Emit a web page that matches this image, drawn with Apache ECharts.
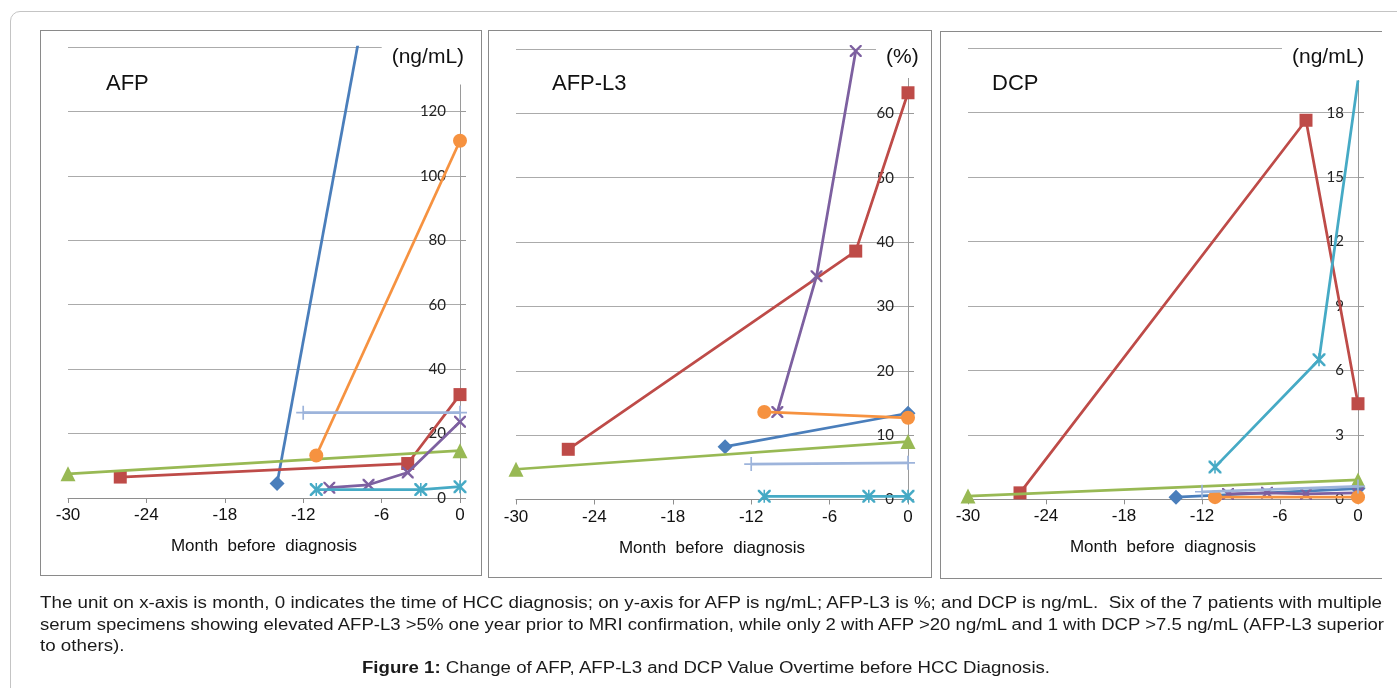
<!DOCTYPE html>
<html>
<head>
<meta charset="utf-8">
<script src="https://cdn.jsdelivr.net/npm/echarts@6/dist/echarts.min.js"></script>
<style>
html,body{margin:0;padding:0;background:#fff;width:1397px;height:688px;overflow:hidden;}
#frame{position:absolute;left:10px;top:11px;width:1420px;height:720px;border:1px solid #c4c4c4;border-radius:10px;box-sizing:border-box;}
.panel{position:absolute;border:1.5px solid #8a8a8a;box-sizing:border-box;}
#chart{position:absolute;left:0;top:0;width:1397px;height:688px;}
.cap{position:absolute;left:40px;white-space:nowrap;font-family:"Liberation Sans Narrow","Liberation Sans",Arial,sans-serif;font-size:16px;line-height:20px;color:#1a1a1a;transform-origin:0 0;}
</style>
</head>
<body>
<div id="frame"></div>
<div class="panel" style="left:40px;top:30px;width:442px;height:546px"></div>
<div class="panel" style="left:488px;top:30px;width:444px;height:548px"></div>
<div class="panel" style="left:940px;top:31px;width:442px;height:548px;border-right:none"></div>
<div id="chart"></div>
<div class="cap" id="c1" style="top:593px">The unit on x-axis is month, 0 indicates the time of HCC diagnosis; on y-axis for AFP is ng/mL; AFP-L3 is %; and DCP is ng/mL.&nbsp; Six of the 7 patients with multiple</div>
<div class="cap" id="c2" style="top:615px">serum specimens showing elevated AFP-L3 &gt;5% one year prior to MRI confirmation, while only 2 with AFP &gt;20 ng/mL and 1 with DCP &gt;7.5 ng/mL (AFP-L3 superior</div>
<div class="cap" id="c3" style="top:636px">to others).</div>
<div class="cap" id="c4" style="top:658px;left:362px"><b>Figure 1:</b> Change of AFP, AFP-L3 and DCP Value Overtime before HCC Diagnosis.</div>
<script>
// ---------- tick labels ----------
const X_TICKS = [-30, -24, -18, -12, -6, 0];
const AFP_TICKS = [0, 20, 40, 60, 80, 100, 120, 140];
const L3_TICKS = [0, 10, 20, 30, 40, 50, 60, 70];
const DCP_TICKS = [0, 3, 6, 9, 12, 15, 18, 21];

// ---------- AFP (ng/mL): [month, value] ----------
const AFP_P1 = [[-14, 4.5], [0, 313]];
const AFP_P2 = [[-26, 6.5], [-4, 10.7], [0, 32.1]];
const AFP_P3 = [[-30, 7.5], [0, 14.7]];
const AFP_P4 = [[-10, 3.2], [-7, 4.1], [-4, 7.9], [0, 23.7]];
const AFP_P5 = [[-11, 2.6], [-3, 2.6], [0, 3.5]];
const AFP_P6 = [[-11, 13.2], [0, 110.9]];
const AFP_P7 = [[-12, 26.5], [0, 26.5]];

// ---------- AFP-L3 (%) ----------
const L3_P1 = [[-14, 8.2], [0, 13.4]];
const L3_P2 = [[-26, 7.8], [-4, 38.6], [0, 63.2]];
const L3_P3 = [[-30, 4.7], [0, 9.0]];
const L3_P4 = [[-10, 13.6], [-7, 34.7], [-4, 69.7]];
const L3_P5 = [[-11, 0.5], [-3, 0.5], [0, 0.5]];
const L3_P6 = [[-11, 13.6], [0, 12.7]];
const L3_P7 = [[-12, 5.5], [0, 5.7]];

// ---------- DCP (ng/mL) ----------
const DCP_P1 = [[-14, 0.1], [0, 0.5]];
const DCP_P2 = [[-26, 0.3], [-4, 17.65], [0, 4.45]];
const DCP_P3 = [[-30, 0.15], [0, 0.9]];
const DCP_P4 = [[-10, 0.25], [-7, 0.3], [-4, 0.25], [0, 0.3]];
const DCP_P5 = [[-11, 1.5], [-3, 6.5], [0, 19.5]];
const DCP_P6 = [[-11, 0.1], [0, 0.1]];
const DCP_P7 = [[-12, 0.35], [0, 0.6]];

const PANEL_TITLES = ['AFP', 'AFP-L3', 'DCP'];
const PANEL_UNITS = ['(ng/mL)', '(%)', '(ng/mL)'];
const X_NAME = 'Month  before  diagnosis';

// ---------- styles ----------
const SYM_X = 'path://M0,0L1.4,0L5,3.6L8.6,0L10,0L10,1.4L6.4,5L10,8.6L10,10L8.6,10L5,6.4L1.4,10L0,10L0,8.6L3.6,5L0,1.4Z';
const SYM_STAR = 'path://M0,0L1.4,0L5,3.6L8.6,0L10,0L10,1.4L6.4,5L10,8.6L10,10L8.6,10L5,6.4L1.4,10L0,10L0,8.6L3.6,5L0,1.4ZM4.4,0L5.6,0L5.6,10L4.4,10Z';
const SYM_PLUS = 'path://M4.4,0L5.6,0L5.6,4.4L10,4.4L10,5.6L5.6,5.6L5.6,10L4.4,10L4.4,5.6L0,5.6L0,4.4L4.4,4.4Z';
const STYLES = [
  { color: '#4A7EBB', symbol: 'diamond', size: 15 },
  { color: '#BE4B48', symbol: 'rect', size: 13 },
  { color: '#98B954', symbol: 'triangle', size: 15 },
  { color: '#7D60A0', symbol: SYM_X, size: 12 },
  { color: '#46AAC5', symbol: SYM_STAR, size: 13 },
  { color: '#F69240', symbol: 'circle', size: 14 },
  { color: '#9DB4DB', symbol: SYM_PLUS, size: 14 }
];

const PANELS = [
  { grid: { left: 68, top: 47, width: 392, height: 451 }, ticks: AFP_TICKS,
    data: [AFP_P1, AFP_P2, AFP_P3, AFP_P4, AFP_P5, AFP_P6, AFP_P7],
    titlePos: [106, 73], unitBox: { left: 381.7, top: 43.5, padding: [3, 4, 17, 10] } },
  { grid: { left: 516, top: 49, width: 392, height: 450.5 }, ticks: L3_TICKS,
    data: [L3_P1, L3_P2, L3_P3, L3_P4, L3_P5, L3_P6, L3_P7],
    titlePos: [552, 73], unitBox: { left: 876, top: 43, padding: [4, 3, 10, 10] } },
  { grid: { left: 968, top: 48.3, width: 390, height: 451 }, ticks: DCP_TICKS,
    data: [DCP_P1, DCP_P2, DCP_P3, DCP_P4, DCP_P5, DCP_P6, DCP_P7],
    titlePos: [992, 73], unitBox: { left: 1282, top: 43, padding: [4, 4, 12, 10] } }
];

const AXIS_COLOR = '#8e8e8e';
const grids = [], xAxes = [], yAxes = [], series = [], titles = [];

PANELS.forEach((p, i) => {
  grids.push(Object.assign({ containLabel: false }, p.grid));
  xAxes.push({
    gridIndex: i, type: 'value',
    min: X_TICKS[0], max: X_TICKS[X_TICKS.length - 1], interval: X_TICKS[1] - X_TICKS[0],
    axisLine: { show: true, onZero: false, lineStyle: { color: AXIS_COLOR, width: 1 } },
    axisTick: { show: true, length: 5, lineStyle: { color: AXIS_COLOR } },
    axisLabel: { color: '#111', fontSize: 17, fontFamily: 'Liberation Sans', margin: 9 },
    splitLine: { show: false },
    name: X_NAME, nameLocation: 'middle', nameGap: 40,
    nameTextStyle: { color: '#111', fontSize: 17, fontFamily: 'Liberation Sans' }
  });
  const t = p.ticks;
  yAxes.push({
    gridIndex: i, type: 'value', position: 'right',
    min: t[0], max: t[t.length - 1], interval: t[1] - t[0],
    axisLine: { show: true, onZero: false, lineStyle: { color: '#9a9a9a', width: 1 } },
    axisTick: { show: true, length: 6, lineStyle: { color: '#9a9a9a' } },
    axisLabel: { inside: true, margin: 14, showMaxLabel: false, showMinLabel: true,
      color: '#222', fontFamily: 'Lato', fontSize: 15 },
    splitLine: { show: true, lineStyle: { color: '#ababab', width: 1 } }
  });
  p.data.forEach((d, k) => {
    const st = STYLES[k];
    // last DCP teal point: marker not drawn in the original
    const items = (i === 2 && k === 4)
      ? d.map((pt, j) => j === d.length - 1 ? { value: pt, symbol: 'none' } : pt)
      : d;
    series.push({
      type: 'line', xAxisIndex: i, yAxisIndex: i, data: items,
      symbol: st.symbol, symbolSize: st.size, showSymbol: true,
      lineStyle: { color: st.color, width: 2.75 },
      itemStyle: { color: st.color, borderWidth: 0 },
      clip: true, silent: true, z: 2 + k * 0.01
    });
  });
  titles.push({
    text: PANEL_TITLES[i], left: p.titlePos[0], top: p.titlePos[1], padding: 0,
    textStyle: { fontSize: 22, fontWeight: 'normal', color: '#111', fontFamily: 'Liberation Sans' }
  });
  titles.push({
    text: PANEL_UNITS[i], left: p.unitBox.left, top: p.unitBox.top, padding: p.unitBox.padding,
    backgroundColor: '#fff',
    textStyle: { fontSize: 21, fontWeight: 'normal', color: '#111', fontFamily: 'Liberation Sans' }
  });
});

const chart = echarts.init(document.getElementById('chart'));
chart.setOption({
  animation: false,
  backgroundColor: 'transparent',
  title: titles,
  grid: grids,
  xAxis: xAxes,
  yAxis: yAxes,
  series: series
});

// fit caption lines to the widths of the original
function fit(id, target) {
  const el = document.getElementById(id);
  const w = el.getBoundingClientRect().width;
  return target / w;
}
const s1 = fit('c1', 1342);
const s2 = fit('c2', 1344);
const s4 = fit('c4', 688);
document.getElementById('c1').style.transform = 'scaleX(' + s1 + ')';
document.getElementById('c2').style.transform = 'scaleX(' + s2 + ')';
document.getElementById('c3').style.transform = 'scaleX(' + s1 + ')';
document.getElementById('c4').style.transform = 'scaleX(' + s4 + ')';
</script>
</body>
</html>
